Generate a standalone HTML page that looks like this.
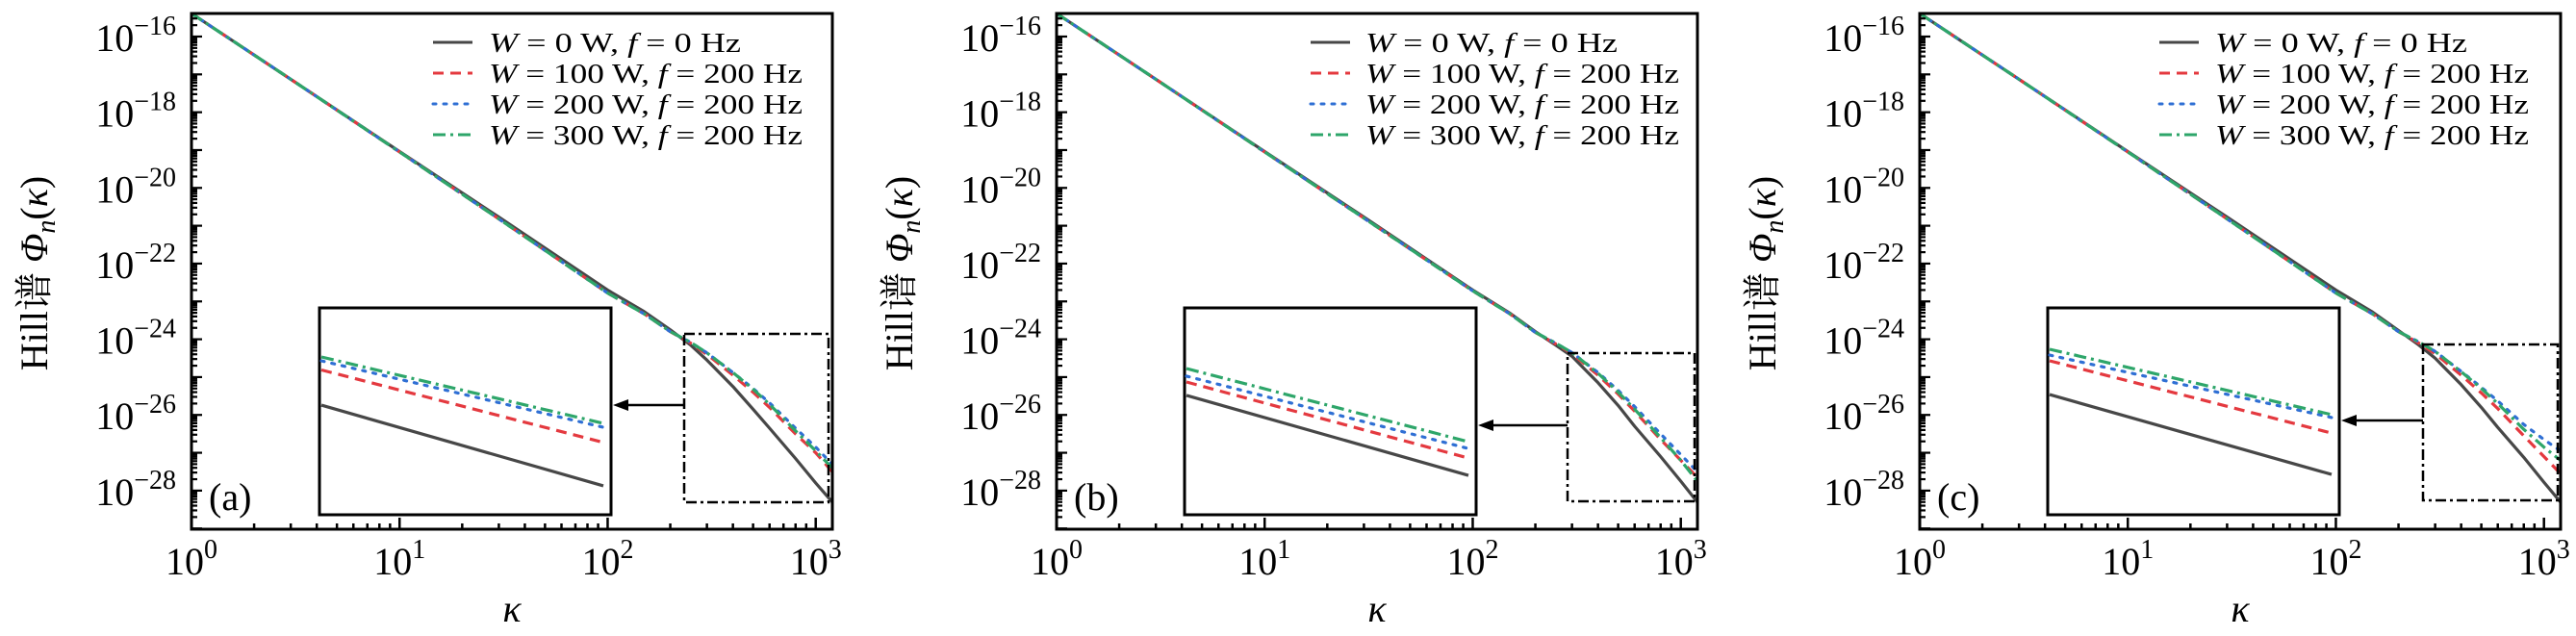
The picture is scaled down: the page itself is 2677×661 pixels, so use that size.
<!DOCTYPE html>
<html><head><meta charset="utf-8"><style>
html,body{margin:0;padding:0;background:#fff;}
svg{display:block;font-family:"Liberation Serif","Noto Serif CJK SC",serif;}
</style></head><body>
<svg id="chart" width="2677" height="661" viewBox="0 0 2677 661" xmlns="http://www.w3.org/2000/svg"></svg>
<script>
// ---- data ----
const kappa = [1, 3, 10, 30, 100, 150, 200, 250, 300, 400, 500, 600, 800, 1000, 1200];
const grayA  = [-15.39, -17.13, -19.04, -20.77, -22.7, -23.27, -23.75, -24.15, -24.55, -25.25, -25.85, -26.35, -27.15, -27.8, -28.3];
const redA   = [-15.39, -17.13, -19.05, -20.82, -22.78, -23.33, -23.8, -24.1, -24.4, -24.95, -25.4, -25.8, -26.5, -27.0, -27.5];
const blueA  = [-15.39, -17.13, -19.05, -20.82, -22.78, -23.33, -23.8, -24.08, -24.36, -24.88, -25.3, -25.68, -26.35, -26.85, -27.3];
const greenA = [-15.39, -17.13, -19.05, -20.82, -22.78, -23.33, -23.8, -24.08, -24.36, -24.88, -25.32, -25.72, -26.42, -26.95, -27.4];
const grayB  = [-15.39, -17.13, -19.04, -20.77, -22.7, -23.3, -23.8, -24.15, -24.45, -25.15, -25.75, -26.3, -27.1, -27.75, -28.3];
const redB   = [-15.39, -17.13, -19.05, -20.8, -22.72, -23.32, -23.82, -24.12, -24.38, -24.95, -25.45, -25.9, -26.65, -27.2, -27.65];
const blueB  = [-15.39, -17.13, -19.05, -20.8, -22.72, -23.32, -23.82, -24.1, -24.35, -24.88, -25.35, -25.78, -26.5, -27.05, -27.5];
const greenB = [-15.39, -17.13, -19.05, -20.8, -22.72, -23.32, -23.82, -24.1, -24.35, -24.9, -25.4, -25.85, -26.6, -27.2, -27.75];
const grayC  = [-15.39, -17.13, -19.04, -20.77, -22.7, -23.28, -23.77, -24.15, -24.5, -25.2, -25.8, -26.33, -27.12, -27.78, -28.3];
const redC   = [-15.39, -17.13, -19.05, -20.82, -22.78, -23.33, -23.8, -24.1, -24.38, -24.95, -25.42, -25.83, -26.55, -27.1, -27.55];
const blueC  = [-15.39, -17.13, -19.05, -20.82, -22.78, -23.33, -23.8, -24.07, -24.32, -24.85, -25.27, -25.63, -26.25, -26.65, -26.95];
const greenC = [-15.39, -17.13, -19.05, -20.82, -22.78, -23.33, -23.8, -24.07, -24.32, -24.86, -25.3, -25.7, -26.38, -26.85, -27.2];
const insetX = [0, 1];
const insetGrayA = [-0.47, -0.86], insetRedA = [-0.30, -0.65], insetBlueA = [-0.256, -0.577], insetGreenA = [-0.237, -0.558];
const insetGrayB = [-0.423, -0.81], insetRedB = [-0.358, -0.726], insetBlueB = [-0.33, -0.68], insetGreenB = [-0.293, -0.647];
const insetGrayC = [-0.419, -0.805], insetRedC = [-0.256, -0.605], insetBlueC = [-0.228, -0.53], insetGreenC = [-0.2, -0.516];
const xTickExps = [0, 1, 2, 3];
const yTickExps = [-16, -18, -20, -22, -24, -26, -28];
const legendLabels = ["W = 0 W, f = 0 Hz", "W = 100 W, f = 200 Hz", "W = 200 W, f = 200 Hz", "W = 300 W, f = 200 Hz"];
const panelLetters = ["(a)", "(b)", "(c)"];

const NS = "http://www.w3.org/2000/svg";
const svg = document.getElementById("chart");
function mk(tag, attrs, parent) {
  const e = document.createElementNS(NS, tag);
  for (const k in attrs) e.setAttribute(k, attrs[k]);
  (parent || svg).appendChild(e);
  return e;
}
const styles = [
  {c: "#474747", d: "none", name: "w0"},
  {c: "#e4393f", d: "11 7", name: "w100"},
  {c: "#2f6fd4", d: "3 8", name: "w200"},
  {c: "#2ea66a", d: "13 5 3 5", name: "w300"}
];
const panels = [
  {L: 199, series: [grayA, redA, blueA, greenA], inset: [insetGrayA, insetRedA, insetBlueA, insetGreenA], box: [512, 662, 347, 522], arrowY: 421, legX: 251, textX: 309},
  {L: 1098, series: [grayB, redB, blueB, greenB], inset: [insetGrayB, insetRedB, insetBlueB, insetGreenB], box: [531, 663, 367, 521], arrowY: 442, legX: 264, textX: 321},
  {L: 1995, series: [grayC, redC, blueC, greenC], inset: [insetGrayC, insetRedC, insetBlueC, insetGreenC], box: [523, 663, 358, 520], arrowY: 437, legX: 249, textX: 307}
];
const W = 666, T = 14, B = 550;
const yMin = -29.02, yMax = -15.39;
const xMaxLog = 3.08;

panels.forEach((p, pi) => {
  const L = p.L;
  const g = mk("g", {});
  
  
  const xs = v => L + Math.log10(v) / xMaxLog * W;
  const ys = v => T + (yMax - v) / (yMax - yMin) * (B - T);
  const clip = mk("clipPath", {id: "clip" + pi}, g);
  mk("rect", {x: L, y: T, width: W, height: B - T}, clip);
  p.series.forEach((arr, si) => {
    const pts = kappa.map((k, i) => xs(k).toFixed(1) + "," + ys(arr[i]).toFixed(1)).join(" ");
    const pl = mk("polyline", {points: pts, fill: "none", stroke: styles[si].c, "stroke-width": 3.2, "stroke-dasharray": styles[si].d, "stroke-linecap": si === 2 ? "round" : "butt", "stroke-linejoin": "round", "clip-path": "url(#clip" + pi + ")"}, g);
    
    
  });
  const fr = mk("rect", {x: L, y: T, width: W, height: B - T, fill: "none", stroke: "#000", "stroke-width": 3}, g);
  
  
  for (let e = 0; e <= 3; e++) {
    for (let m = 1; m <= 9; m++) {
      const v = m * Math.pow(10, e);
      if (Math.log10(v) > xMaxLog) break;
      const x = xs(v), len = m === 1 ? 12 : 6;
      mk("line", {x1: x, x2: x, y1: B, y2: B - len, stroke: "#000", "stroke-width": 2.5}, g);
    }
  }
  xTickExps.forEach(e => {
    const t = mk("text", {x: xs(Math.pow(10, e)), y: 597, "font-size": 40, "text-anchor": "middle"}, g);
    
    
    t.innerHTML = '10<tspan font-size="28" dy="-17">' + e + '</tspan>';
  });
  for (let e = -29; e <= -16; e++) {
    for (let m = 1; m <= 9; m++) {
      const lv = e + Math.log10(m);
      if (lv > yMax) break;
      const y = ys(lv), len = m === 1 ? 11 : 6;
      mk("line", {x1: L, x2: L + len, y1: y, y2: y, stroke: "#000", "stroke-width": 2.2}, g);
    }
  }
  yTickExps.forEach(e => {
    const t = mk("text", {x: L - 16, y: ys(e) + 15, "font-size": 40, "text-anchor": "end"}, g);
    
    
    t.innerHTML = '10<tspan font-size="28" dy="-17">−' + (-e) + '</tspan>';
  });
  const xt = mk("text", {x: L + W / 2, y: 646, "font-size": 40, "font-style": "italic", "text-anchor": "middle"}, g);
  
  
  xt.textContent = "κ";
  const yt = mk("text", {x: 0, y: 0, "font-size": 40, "text-anchor": "middle", transform: "translate(" + (L - 150) + ",284) rotate(-90)"}, g);
  
  
  yt.innerHTML = 'Hill谱 <tspan font-style="italic">Φ</tspan><tspan font-style="italic" font-size="28" dy="8">n</tspan><tspan dy="-8">(</tspan><tspan font-style="italic">κ</tspan>)';
  const pl = mk("text", {x: L + 18, y: 530, "font-size": 40}, g);
  
  
  pl.textContent = panelLetters[pi];
  const lg = mk("g", {}, g);
  
  
  legendLabels.forEach((lab, i) => {
    const y = 44 + i * 32;
    const ln = mk("line", {x1: L + p.legX, x2: L + p.legX + 41, y1: y, y2: y, stroke: styles[i].c, "stroke-width": 3, "stroke-dasharray": styles[i].d, "stroke-linecap": i === 2 ? "round" : "butt"}, lg);
    
    
    const parts = lab.match(/W = (\d+) W, f = (\d+) Hz/);
    const tx = mk("text", {x: L + p.textX, y: y + 10, "font-size": 28, textLength: i === 0 ? 262 : 326, lengthAdjust: "spacingAndGlyphs"}, lg);
    
    
    tx.innerHTML = '<tspan font-style="italic">W</tspan> = ' + parts[1] + ' W, <tspan font-style="italic">f</tspan> = ' + parts[2] + ' Hz';
  });
  const b = p.box;
  const zb = mk("rect", {x: L + b[0], y: b[2], width: b[1] - b[0], height: b[3] - b[2], fill: "none", stroke: "#000", "stroke-width": 2.5, "stroke-dasharray": "11 4 3 4"}, g);
  
  
  const iL = L + 133, iR = L + 436, iT = 320, iB = 535;
  const ir = mk("rect", {x: iL, y: iT, width: iR - iL, height: iB - iT, fill: "#fff", stroke: "#000", "stroke-width": 3}, g);
  
  
  const ixs = v => iL + 2 + v * (iR - iL - 10);
  const iys = v => iT + (-v) * (iB - iT);
  p.inset.forEach((arr, si) => {
    const pts = insetX.map((v, i) => ixs(v).toFixed(1) + "," + iys(arr[i]).toFixed(1)).join(" ");
    const il = mk("polyline", {points: pts, fill: "none", stroke: styles[si].c, "stroke-width": 3.2, "stroke-dasharray": styles[si].d, "stroke-linecap": si === 2 ? "round" : "butt"}, g);
    
    
  });
  const ar = mk("g", {}, g);
  
  
  mk("line", {x1: L + b[0], x2: iR + 12, y1: p.arrowY, y2: p.arrowY, stroke: "#000", "stroke-width": 2.5}, ar);
  mk("polygon", {points: (iR + 2) + "," + p.arrowY + " " + (iR + 18) + "," + (p.arrowY - 6) + " " + (iR + 18) + "," + (p.arrowY + 6), fill: "#000"}, ar);
});
</script>
</body></html>
